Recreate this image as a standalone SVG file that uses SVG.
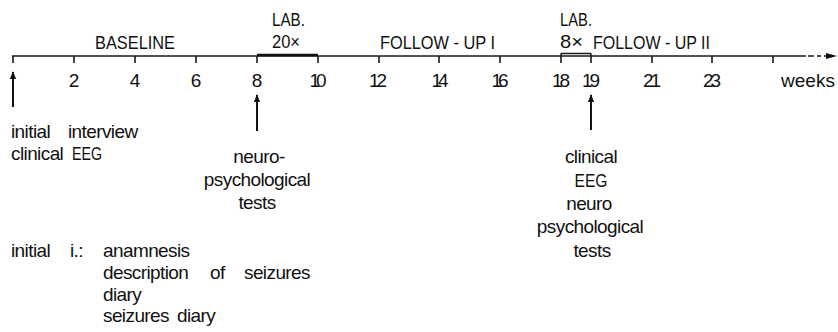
<svg xmlns="http://www.w3.org/2000/svg" width="838" height="332" viewBox="0 0 838 332">
<defs>
<style>
.t{font-family:"Liberation Sans",Arial,sans-serif;font-size:19px;fill:#111;letter-spacing:-0.6px}
.c{letter-spacing:0}
.ax{stroke:#1a1a1a;stroke-width:1.3;fill:none}
.tk{stroke:#1a1a1a;stroke-width:1.6;fill:none}
.ar{stroke:#111;stroke-width:2;fill:none}
.n{text-anchor:middle}
</style>
<marker id="ah" viewBox="0 0 10 10" refX="9" refY="5" markerWidth="8" markerHeight="8" markerUnits="userSpaceOnUse" orient="auto">
<path d="M0,1 L10,5 L0,9 Z" fill="#111"/>
</marker>
</defs>
<rect width="838" height="332" fill="#fff"/>

<g id="connectors">
<line class="ax" x1="12" y1="56" x2="806" y2="56"/>
<path class="ax" d="M808 56 H814 M817 56 H821 M824 56 H828" />
<path d="M826 53 L837 56 L826 59 Z" fill="#111"/>
<g class="tk">
<path d="M13 56V63 M74 56V63 M135 56V63 M196 56V63 M257 56V63 M318 56V63 M379 56V63 M439 56V63 M500 56V63 M773 56V63 M652 56V63 M712 56V63"/>
<path d="M561 53.5V63 M591 53.5V63 M561 53.5H591"/>
</g>
<line x1="257" y1="55" x2="318" y2="55" stroke="#111" stroke-width="2.6"/>
<line class="ar" x1="13" y1="107" x2="13" y2="72" marker-end="url(#ah)"/>
<line class="ar" x1="257" y1="131" x2="257" y2="95" marker-end="url(#ah)"/>
<line class="ar" x1="591" y1="130" x2="591" y2="95" marker-end="url(#ah)"/>
</g>

<g id="header">
<text class="t c" x="95" y="49" textLength="80" lengthAdjust="spacingAndGlyphs">BASELINE</text>
<text class="t c" x="272" y="26" textLength="33" lengthAdjust="spacingAndGlyphs">LAB.</text>
<text class="t c" x="272" y="48" textLength="28" lengthAdjust="spacingAndGlyphs">20×</text>
<text class="t c" x="380" y="49" textLength="115" lengthAdjust="spacingAndGlyphs">FOLLOW - UP I</text>
<text class="t c" x="560" y="26" textLength="32" lengthAdjust="spacingAndGlyphs">LAB.</text>
<text class="t c" x="560" y="48" textLength="23" lengthAdjust="spacingAndGlyphs">8×</text>
<text class="t c" x="593" y="49" textLength="117" lengthAdjust="spacingAndGlyphs">FOLLOW - UP II</text>
</g>

<g id="axis-labels" class="t c n">
<text x="74" y="87">2</text>
<text x="135" y="87">4</text>
<text x="196" y="87">6</text>
<text x="257" y="87">8</text>
<text x="318" y="87" textLength="17">10</text>
<text x="378" y="87" textLength="18">12</text>
<text x="440" y="87" textLength="17">14</text>
<text x="500" y="87" textLength="17">16</text>
<text x="561" y="87" textLength="18">18</text>
<text x="591" y="87" textLength="18">19</text>
<text x="652" y="87" textLength="18">21</text>
<text x="712" y="87" textLength="18">23</text>
<text x="808" y="87">weeks</text>
</g>

<g id="start-node">
<text class="t" y="138"><tspan x="11">initial</tspan> <tspan x="68">interview</tspan></text>
<text class="t" y="160"><tspan x="11">clinical</tspan> <tspan x="72" class="c" textLength="30" lengthAdjust="spacingAndGlyphs">EEG</tspan></text>
</g>

<g id="week8-node" class="t n">
<text x="259" y="163">neuro-</text>
<text x="257" y="186">psychological</text>
<text x="257" y="209">tests</text>
</g>

<g id="week19-node" class="t n">
<text x="591" y="163">clinical</text>
<text x="591" y="187" class="c" textLength="33" lengthAdjust="spacingAndGlyphs">EEG</text>
<text x="589" y="210">neuro</text>
<text x="590" y="233">psychological</text>
<text x="592" y="257">tests</text>
</g>

<g id="legend" class="t">
<text y="257"><tspan x="11">initial</tspan> <tspan x="70">i.:</tspan> <tspan x="103">anamnesis</tspan></text>
<text y="279"><tspan x="103">description</tspan> <tspan x="210">of</tspan> <tspan x="244">seizures</tspan></text>
<text x="103" y="301">diary</text>
<text y="322"><tspan x="103">seizures</tspan> <tspan x="177">diary</tspan></text>
</g>
</svg>
